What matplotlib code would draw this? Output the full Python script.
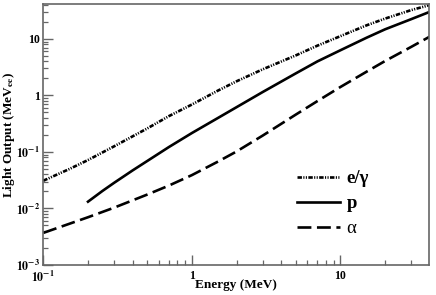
import matplotlib
matplotlib.use("Agg")
import matplotlib.pyplot as plt
from matplotlib.ticker import FixedLocator, FixedFormatter, LogLocator, NullFormatter
from matplotlib.font_manager import FontProperties

plt.rcParams['font.family'] = ['Liberation Serif', 'DejaVu Serif']
plt.rcParams['mathtext.fontset'] = 'stix'
plt.rcParams['lines.scale_dashes'] = False

energy = [0.1, 0.15, 0.2, 0.3, 0.5, 0.7, 1, 1.5, 2, 3, 5, 7, 10, 15, 20, 30, 40]
e_gamma = [0.031, 0.050, 0.072, 0.126, 0.26, 0.43, 0.69, 1.22, 1.78, 2.9, 5.1, 7.6, 11.2, 17.4, 22.9, 32.4, 39.8]

energy_p = [0.2, 0.25, 0.3, 0.4, 0.5, 0.7, 1, 1.5, 2, 3, 5, 7, 10, 15, 20, 30, 40]
proton = [0.0132, 0.0204, 0.0285, 0.0473, 0.069, 0.122, 0.216, 0.40, 0.62, 1.15, 2.45, 4.0, 6.3, 10.5, 14.8, 22.4, 30.2]

alpha = [0.0037, 0.00537, 0.0070, 0.01035, 0.0176, 0.0254, 0.0389, 0.0676, 0.102, 0.195, 0.457, 0.794, 1.41, 2.63, 4.07, 7.24, 11.0]

labels = ['e/γ', 'p', 'α']
x_ticks = [0.1, 1, 10]
x_ticklabels = [r'$\mathbf{10^{-1}}$', '1', '10']
y_ticks = [1e-3, 1e-2, 1e-1, 1, 10]
y_ticklabels = [r'$\mathbf{10^{-3}}$', r'$\mathbf{10^{-2}}$', r'$\mathbf{10^{-1}}$', '1', '10']

fig = plt.figure(figsize=(4.36, 2.95), dpi=100)
ax = fig.add_axes([43.3/436, 1-265/295, (429-43.3)/436, (265-4.3)/295])

lw = 1.9
ax.plot(energy, e_gamma, color='black', lw=lw, linestyle=(0, (3.2, 1.0, 0.8, 1.0, 0.8, 1.0)), label=labels[0])
ax.plot(energy_p, proton, color='black', lw=lw, linestyle='-', label=labels[1])
ax.plot(energy, alpha, color='black', lw=lw, linestyle=(0, (10, 4)), label=labels[2])

ax.set_xscale('log')
ax.set_yscale('log')
ax.set_xlim(0.1, 39.5)
ax.set_ylim(1e-3, 41)

ax.xaxis.set_major_locator(FixedLocator(x_ticks))
ax.xaxis.set_major_formatter(FixedFormatter(x_ticklabels))
ax.yaxis.set_major_locator(FixedLocator(y_ticks))
ax.yaxis.set_major_formatter(FixedFormatter(y_ticklabels))
ax.xaxis.set_minor_locator(LogLocator(base=10, subs=range(2, 10)))
ax.yaxis.set_minor_locator(LogLocator(base=10, subs=range(2, 10)))
ax.xaxis.set_minor_formatter(NullFormatter())
ax.yaxis.set_minor_formatter(NullFormatter())

fc = '#666666'
for s in ax.spines.values():
    s.set_color(fc)
    s.set_linewidth(1.2)
ax.tick_params(which='both', direction='in', top=False, right=False, color=fc)
ax.tick_params(which='major', length=7, width=1.0, labelsize=8.5, pad=2.5)
ax.tick_params(axis='x', which='major', pad=3.5)
ax.tick_params(which='minor', length=3.6, width=0.9)
for t in ax.get_xticklabels() + ax.get_yticklabels():
    t.set_fontweight('bold')

ax.set_xlabel('Energy (MeV)', fontsize=9.5, fontweight='bold')
ax.set_ylabel(r'Light Output (MeV$_{\mathbf{ee}}$)', fontsize=9.5, fontweight='bold')
ax.xaxis.set_label_coords(0.5, (265 - 279) / 260.7)
ax.yaxis.set_label_coords((17 - 43.3) / 385.7, 0.5)

leg = ax.legend(loc='upper left', bbox_to_anchor=(297/436, 1-170/295), bbox_transform=fig.transFigure,
                frameon=False, prop=FontProperties(family=['Liberation Serif', 'DejaVu Serif'], size=13.5),
                handlelength=2.3, handletextpad=0.35, labelspacing=0.42,
                borderaxespad=0, borderpad=0)
for t in leg.get_texts():
    if t.get_text() != 'α':
        t.set_fontweight('bold')

fig.savefig('out.png', dpi=100)
